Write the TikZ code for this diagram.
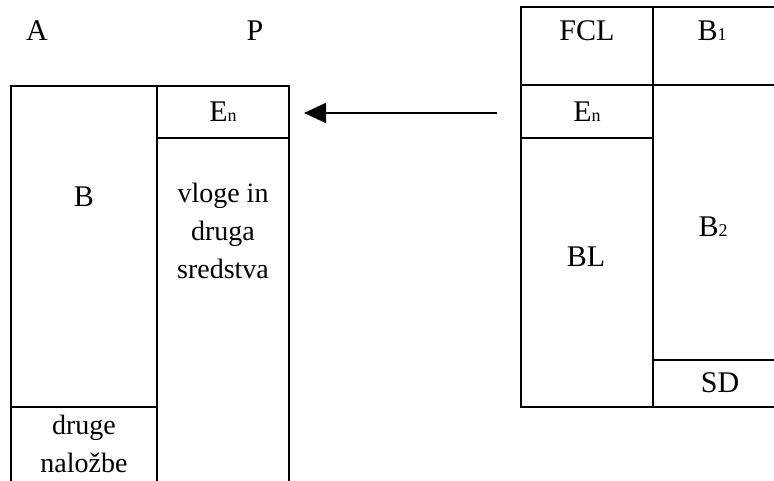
\documentclass[tikz,border=0pt]{standalone}
\usepackage{fontspec}
\setmainfont{Liberation Serif}
\usetikzlibrary{arrows.meta}
\begin{document}
\begin{tikzpicture}[x=1pt,y=-1pt,
  rule/.style={line width=2.2pt},
  lbl/.style={anchor=base, inner sep=0pt, font=\fontsize{30}{37}\selectfont, align=center},
  txt/.style={anchor=base, inner sep=0pt, font=\fontsize{28}{37.5}\selectfont, align=center},
  arrowline/.style={line width=2pt, -{Triangle[length=22pt,width=20pt]}}]
\newcommand{\smallsub}[1]{{\fontsize{18}{18}\selectfont #1}}
\useasboundingbox (0,0) rectangle (774,481);
% left balance (A / P)
\draw[rule] (11,483) -- (11,86) -- (289,86) -- (289,483);
\draw[rule] (157,86) -- (157,483);
\draw[rule] (157,138) -- (289,138);
\draw[rule] (11,407) -- (157,407);
% right balance
\draw[rule] (777,7) -- (521,7) -- (521,407) -- (777,407);
\draw[rule] (653,7) -- (653,407);
\draw[rule] (521,85) -- (777,85);
\draw[rule] (521,138) -- (653,138);
\draw[rule] (653,360) -- (777,360);
% labels
\node[lbl] (A) at (37,41) {A};
\node[lbl] (P) at (255,41) {P};
\node[lbl] (En1) at (223,122) {E\smallsub{n}};
\node[lbl] (B) at (84,207) {B};
\node[txt] (vl) at (223,278) {vloge in\\druga\\sredstva};
\node[txt] (dn) at (84,472) {druge\\naložbe};
\node[lbl] (FCL) at (587,41) {FCL};
\node[lbl] (B1) at (712,41) {B\smallsub{1}};
\node[lbl] (En2) at (587,122) {E\smallsub{n}};
\node[lbl] (B2) at (713,237) {B\smallsub{2}};
\node[lbl] (BL) at (586,266) {BL};
\node[lbl] (SD) at (720,392) {SD};
% arrow
\coordinate (arrS) at (497,113);
\coordinate (arrE) at (304,113);
\draw[arrowline] (arrS) -- (arrE);
\end{tikzpicture}
\end{document}
